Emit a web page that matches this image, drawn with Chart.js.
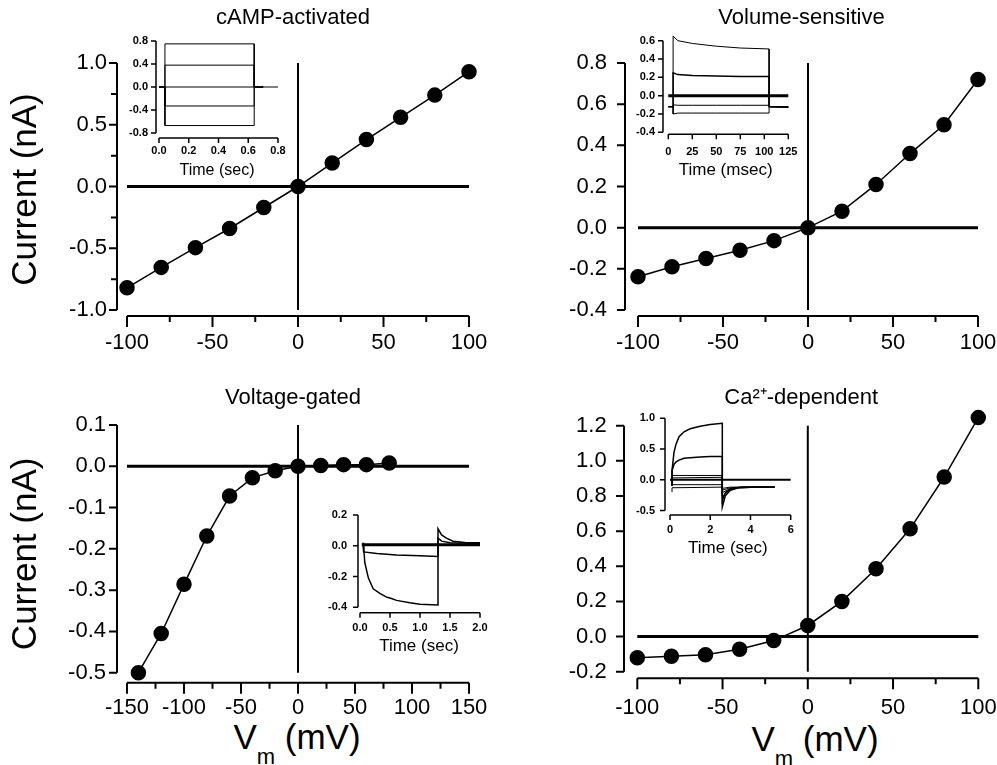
<!DOCTYPE html>
<html>
<head>
<meta charset="utf-8">
<script src="https://cdn.jsdelivr.net/npm/chart.js@4.4.1/dist/chart.umd.min.js"></script>
<style>
html, body { margin: 0; padding: 0; background: #fff; }
#fig { position: relative; width: 997px; height: 765px; overflow: hidden; font-family: 'Liberation Sans', Arial, sans-serif; color: #000; }
#fig canvas { position: absolute; }
.vm { position: absolute; font-size: 35px; line-height: 35px; white-space: nowrap; transform: translateX(-50%); }
.vm sub { font-size: 22px; line-height: 1; vertical-align: -15px; }
</style>
</head>
<body>
<div id="fig">
  <div class="vm" style="left:297px;top:719px">V<sub>m</sub> (mV)</div>
  <div class="vm" style="left:815px;top:721px">V<sub>m</sub> (mV)</div>
</div>
<script>
// ---- I-V curves (membrane potential in mV, current in nA) ----
var vmStep = [-100, -80, -60, -40, -20, 0, 20, 40, 60, 80, 100];
var iCamp = [-0.82, -0.655, -0.495, -0.34, -0.17, 0, 0.19, 0.38, 0.56, 0.74, 0.93];
var iVolume = [-0.238, -0.19, -0.15, -0.11, -0.063, 0, 0.08, 0.21, 0.36, 0.50, 0.72];
var vmVoltage = [-140, -120, -100, -80, -60, -40, -20, 0, 20, 40, 60, 80];
var iVoltage = [-0.50, -0.405, -0.286, -0.169, -0.072, -0.028, -0.011, 0, 0.002, 0.004, 0.004, 0.008];
var iCalcium = [-0.121, -0.112, -0.103, -0.072, -0.023, 0.063, 0.20, 0.386, 0.613, 0.908, 1.246];

// tick labels
var xTicks100 = [-100, -50, 0, 50, 100];
var xTicks150 = [-150, -100, -50, 0, 50, 100, 150];
var yTicksCamp = [-1, -0.5, 0, 0.5, 1];
var yTicksVolume = [-0.4, -0.2, 0, 0.2, 0.4, 0.6, 0.8];
var yTicksVoltage = [-0.5, -0.4, -0.3, -0.2, -0.1, 0, 0.1];
var yTicksCalcium = [-0.2, 0, 0.2, 0.4, 0.6, 0.8, 1.0, 1.2];

// ---- inset current traces ----
// cAMP (sec, nA)
var campTime = [0, 0.04, 0.04, 0.64, 0.64, 0.7];
var campBase = { t: [0, 0.8], v: [0, 0] };
var campA = [0, 0, 0.75, 0.75, 0, 0];
var campB = [0, 0, 0.38, 0.38, 0, 0];
var campC = [0, 0, -0.33, -0.33, 0, 0];
var campD = [0, 0, -0.67, -0.67, 0, 0];
var campTicksX = [0, 0.2, 0.4, 0.6, 0.8];
var campTicksY = [-0.8, -0.4, 0, 0.4, 0.8];

// volume-sensitive (msec, nA)
var volTime = [0, 5, 5, 10, 25, 50, 75, 105, 105, 125];
var volBase = { t: [0, 125], v: [0, 0] };
var volA = [-0.12, -0.12, 0.65, 0.60, 0.57, 0.54, 0.52, 0.51, -0.12, -0.12];
var volB = [-0.12, -0.12, 0.25, 0.23, 0.22, 0.215, 0.21, 0.21, -0.12, -0.12];
var volC = [-0.12, -0.12, -0.10, -0.105, -0.105, -0.105, -0.105, -0.105, -0.12, -0.13];
var volD = [-0.12, -0.12, -0.20, -0.19, -0.19, -0.19, -0.19, -0.19, -0.12, -0.13];
var volTicksX = [0, 25, 50, 75, 100, 125];
var volTicksY = [-0.4, -0.2, 0, 0.2, 0.4, 0.6];

// voltage-gated (sec, nA)
var vgBase = { t: [0.03, 2.0], v: [0.006, 0.006] };
var vgTimeA = [0.05, 0.06, 0.08, 0.14, 0.22, 0.33, 0.45, 0.5, 0.61, 0.83, 1.0, 1.3, 1.3, 1.36, 1.44, 1.55, 1.75, 2.0];
var vgA = [0.02, 0.0, -0.11, -0.21, -0.28, -0.31, -0.335, -0.34, -0.355, -0.37, -0.38, -0.385, 0.11, 0.07, 0.05, 0.03, 0.022, 0.02];
var vgTimeB = [0.05, 0.06, 0.28, 0.61, 1.0, 1.3, 1.3, 1.36, 1.5, 2.0];
var vgB = [0.01, -0.04, -0.05, -0.06, -0.065, -0.07, 0.05, 0.03, 0.02, 0.015];
var vgTicksX = [0, 0.5, 1.0, 1.5, 2.0];
var vgTicksY = [-0.4, -0.2, 0, 0.2];

// Ca2+-dependent (sec, nA)
var caBase = { t: [0, 6], v: [0, 0] };
var caTimeA = [0.1, 0.1, 0.2, 0.3, 0.45, 0.7, 1.0, 1.5, 2.0, 2.6, 2.6, 2.75, 3.0, 3.4, 4.0, 5.2];
var caA = [-0.1, 0.15, 0.45, 0.58, 0.70, 0.78, 0.83, 0.87, 0.90, 0.92, -0.44, -0.26, -0.17, -0.13, -0.12, -0.12];
var caB = [-0.1, 0.15, 0.25, 0.29, 0.32, 0.35, 0.36, 0.37, 0.38, 0.38, -0.34, -0.21, -0.15, -0.13, -0.12, -0.12];
var caTimeB = [0.1, 0.1, 2.6, 2.6, 3.0, 3.5, 5.2];
var caC = [-0.1, 0.07, 0.07, -0.27, -0.16, -0.12, -0.12];
var caD = [-0.1, 0.03, 0.04, -0.21, -0.14, -0.12, -0.12];
var caE = [-0.1, -0.08, -0.08, -0.17, -0.13, -0.12, -0.12];
var caF = [-0.2, -0.13, -0.12, -0.14, -0.12, -0.12, -0.12];
var caTicksX = [0, 2, 4, 6];
var caTicksY = [-0.5, 0, 0.5, 1.0];

Chart.defaults.font.family = "'Liberation Sans', Arial, sans-serif";
Chart.defaults.color = '#000';

function addCanvas(b) {
  var c = document.createElement('canvas');
  c.width = b.w; c.height = b.h;
  c.style.left = b.x + 'px'; c.style.top = b.y + 'px';
  c.style.width = b.w + 'px'; c.style.height = b.h + 'px';
  document.getElementById('fig').appendChild(c);
  return c;
}

function fixSize(prop, size) {
  return function (s) {
    s[prop] = size;
    s.paddingLeft = s.paddingRight = s.paddingTop = s.paddingBottom = 0;
  };
}

function pts(xs, ys) {
  return xs.map(function (x, i) { return { x: x, y: ys[i] }; });
}

function trace(data, w, r) {
  return {
    data: data, borderWidth: w, borderColor: '#000', pointRadius: r || 0,
    pointBackgroundColor: '#000', pointBorderColor: '#000',
    clip: false, tension: 0, spanGaps: false, borderCapStyle: 'butt'
  };
}

// Origin-style axes drawn through the scales: the axis lines sit a few
// pixels off the first tick, tick marks point outwards
function axisMarks(xt, yt, a, o) {
  var x0 = xt[0], x1 = xt[xt.length - 1], y0 = yt[0], y1 = yt[yt.length - 1];
  var ux = (x1 - x0) / (a.r - a.l), uy = (y1 - y0) / (a.b - a.t);
  var xa = x0 - o.gapY * ux, ya = y0 - o.gapX * uy;
  var marks = [], i;
  function yMark(v, len) { marks.push({ x: xa, y: v }, { x: xa - len * ux, y: v }, { x: xa, y: null }); }
  function xMark(v, len) { marks.push({ x: v, y: ya }, { x: v, y: ya - len * uy }, { x: v, y: null }); }
  yt.forEach(function (v) { yMark(v, o.tickY); });
  xt.forEach(function (v) { xMark(v, o.tickX); });
  if (o.minorX) for (i = 0; i < xt.length - 1; i++) xMark((xt[i] + xt[i + 1]) / 2, o.minor);
  if (o.minorY) for (i = 0; i < yt.length - 1; i++) yMark((yt[i] + yt[i + 1]) / 2, o.minor);
  return {
    xMin: xa, yMin: ya,
    sets: [
      trace([{ x: xa, y: y0 }, { x: xa, y: y1 }], o.lw),
      trace([{ x: x0, y: ya }, { x: x1, y: ya }], o.lw),
      trace(marks, o.lw)
    ]
  };
}

function scaleOpts(list, lo, dec, font, pad) {
  return {
    type: 'linear', min: lo, max: list[list.length - 1],
    afterBuildTicks: function (s) { s.ticks = list.map(function (v) { return { value: v }; }); },
    grid: { display: false, drawTicks: false },
    border: { display: false },
    ticks: {
      padding: pad, font: font, autoSkip: false, maxRotation: 0,
      callback: function (v) { return Number(v).toFixed(dec); }
    }
  };
}

// main I-V panel
function ivPanel(p) {
  var b = p.box, a = p.area, tlh = 22 * 1.2;
  var ax = axisMarks(p.xTicks, p.yTicks, a, { gapY: p.gapY, gapX: p.gapX, tickX: 11, tickY: 8, minor: 6, lw: 2, minorX: true, minorY: p.minorY });
  var sx = scaleOpts(p.xTicks, ax.xMin, 0, { size: 22 }, p.xPad - p.gapX);
  sx.afterFit = fixSize('height', b.y + b.h - (a.b + p.gapX));
  var sy = scaleOpts(p.yTicks, ax.yMin, 1, { size: 22 }, p.yPad - p.gapY);
  sy.afterFit = fixSize('width', a.l - p.gapY - b.x);
  if (p.yTitle) {
    sy.title = { display: true, text: 'Current (nA)', font: { size: 35 }, padding: { top: 26 - b.x - 21, bottom: 0 } };
  }
  var x0 = p.xTicks[0], x1 = p.xTicks[p.xTicks.length - 1];
  var y0 = p.yTicks[0], y1 = p.yTicks[p.yTicks.length - 1];
  new Chart(addCanvas(b), {
    type: 'line',
    data: {
      datasets: ax.sets.concat([
        trace(pts([x0, x1], [0, 0]), 3),
        trace(pts([0, 0], [y0, y1]), 2),
        trace(pts(p.vm, p.cur), 1.5, 7)
      ])
    },
    options: {
      responsive: false, animation: false, events: [],
      layout: { padding: { left: 0, bottom: 0, top: 0, right: b.x + b.w - a.r } },
      plugins: {
        colors: { enabled: false }, legend: { display: false }, tooltip: { enabled: false },
        title: {
          display: true, text: p.title, fullSize: false, color: '#000',
          font: { size: 22, weight: 'normal' },
          padding: { top: 18 - tlh / 2, bottom: a.t - b.y - 18 - tlh / 2 }
        }
      },
      scales: { x: sx, y: sy }
    }
  });
}

// small current-trace inset
function traceInset(p) {
  var b = p.box, a = p.area, lh = p.titleSize * 1.2, tf = { size: 11, weight: 'bold' };
  var ax = axisMarks(p.xTicks, p.yTicks, a, { gapY: p.gapY, gapX: p.gapX, tickX: 5, tickY: 5, minor: 3, lw: 1.5 });
  var sx = scaleOpts(p.xTicks, ax.xMin, p.xDec, tf, p.xPad - p.gapX);
  sx.afterFit = fixSize('height', b.y + b.h - (a.b + p.gapX));
  sx.title = { display: true, text: p.xTitle, font: { size: p.titleSize }, padding: { top: 0, bottom: b.y + b.h - p.titleY - lh / 2 } };
  var sy = scaleOpts(p.yTicks, ax.yMin, 1, tf, p.yPad - p.gapY);
  sy.afterFit = fixSize('width', a.l - p.gapY - b.x);
  new Chart(addCanvas(b), {
    type: 'line',
    data: {
      datasets: ax.sets.concat(p.traces.map(function (tr) { return trace(pts(tr.t, tr.v), tr.w || 1); }))
    },
    options: {
      responsive: false, animation: false, events: [],
      layout: { padding: { left: 0, bottom: 0, top: a.t - b.y, right: b.x + b.w - a.r } },
      plugins: { colors: { enabled: false }, legend: { display: false }, tooltip: { enabled: false } },
      scales: { x: sx, y: sy }
    }
  });
}

ivPanel({
  title: 'cAMP-activated', box: { x: 0, y: 0, w: 497, h: 375 }, area: { l: 127, t: 63, r: 469, b: 310 },
  vm: vmStep, cur: iCamp, xTicks: xTicks100, yTicks: yTicksCamp,
  gapY: 10, gapX: 6, xPad: 19.8, yPad: 20, yTitle: true, minorY: true
});
ivPanel({
  title: 'Volume-sensitive', box: { x: 500, y: 0, w: 497, h: 375 }, area: { l: 638, t: 63, r: 978, b: 310 },
  vm: vmStep, cur: iVolume, xTicks: xTicks100, yTicks: yTicksVolume,
  gapY: 13, gapX: 6, xPad: 19.8, yPad: 31
});
ivPanel({
  title: 'Voltage-gated', box: { x: 0, y: 380, w: 497, h: 385 }, area: { l: 127, t: 425, r: 469, b: 672.7 },
  vm: vmVoltage, cur: iVoltage, xTicks: xTicks150, yTicks: yTicksVoltage,
  gapY: 10, gapX: 10, xPad: 22.4, yPad: 21, yTitle: true
});
ivPanel({
  title: 'Ca\u00b2\u207a-dependent', box: { x: 500, y: 380, w: 497, h: 385 }, area: { l: 637.3, t: 425.7, r: 978.3, b: 671.7 },
  vm: vmStep, cur: iCalcium, xTicks: xTicks100, yTicks: yTicksCalcium,
  gapY: 13.3, gapX: 6.6, xPad: 23.4, yPad: 30.6
});

traceInset({
  box: { x: 110, y: 28, w: 180, h: 160 }, area: { l: 159, t: 41, r: 278, b: 133 },
  xTicks: campTicksX, yTicks: campTicksY, xDec: 1, xTitle: 'Time (sec)', titleSize: 16, titleY: 171,
  gapY: 3, gapX: 5, xPad: 11, yPad: 11,
  traces: [campBase, { t: campTime, v: campA }, { t: campTime, v: campB }, { t: campTime, v: campC }, { t: campTime, v: campD }]
});
traceInset({
  box: { x: 615, y: 25, w: 190, h: 160 }, area: { l: 668.3, t: 40.7, r: 788.3, b: 132.3 },
  xTicks: volTicksX, yTicks: volTicksY, xDec: 0, xTitle: 'Time (msec)', titleSize: 17, titleY: 170,
  gapY: 5.3, gapX: 2, xPad: 12.8, yPad: 13.3,
  traces: [{ t: volBase.t, v: volBase.v, w: 3 }, { t: volTime, v: volA }, { t: volTime, v: volB, w: 1.5 },
           { t: volTime, v: volC }, { t: volTime, v: volD }]
});
traceInset({
  box: { x: 310, y: 500, w: 185, h: 165 }, area: { l: 360, t: 515, r: 480, b: 607.3 },
  xTicks: vgTicksX, yTicks: vgTicksY, xDec: 1, xTitle: 'Time (sec)', titleSize: 17, titleY: 646.7,
  gapY: 2, gapX: 5.4, xPad: 14, yPad: 13,
  traces: [{ t: vgBase.t, v: vgBase.v, w: 3 }, { t: vgTimeA, v: vgA, w: 1.5 }, { t: vgTimeB, v: vgB, w: 1.5 }]
});
traceInset({
  box: { x: 620, y: 405, w: 190, h: 165 }, area: { l: 670, t: 418.3, r: 790.7, b: 510.5 },
  xTicks: caTicksX, yTicks: caTicksY, xDec: 0, xTitle: 'Time (sec)', titleSize: 17, titleY: 548,
  gapY: 5, gapX: 4.5, xPad: 12.9, yPad: 15,
  traces: [{ t: caBase.t, v: caBase.v, w: 2 }, { t: caTimeA, v: caA, w: 1.5 }, { t: caTimeA, v: caB, w: 1.5 },
           { t: caTimeB, v: caC }, { t: caTimeB, v: caD }, { t: caTimeB, v: caE }, { t: caTimeB, v: caF }]
});
</script>
</body>
</html>
